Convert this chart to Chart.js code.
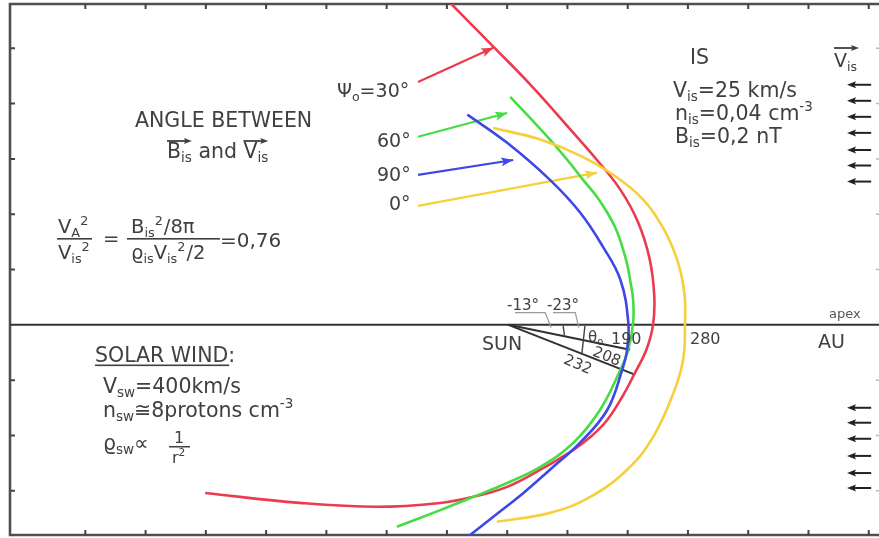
<!DOCTYPE html>
<html><head><meta charset="utf-8">
<script src="https://cdn.jsdelivr.net/npm/chart.js@4/dist/chart.umd.min.js"></script>
<style>html,body{margin:0;padding:0;background:#fff;overflow:hidden}</style>
</head><body>
<canvas id="c" width="879" height="538"></canvas>
<script>
// ---- data (AU, Sun at origin, x toward apex) ----
const xTicks = [-700,-600,-500,-400,-300,-200,-100,0,100,200,300,400,500,600];
const yTicks = [-300,-200,-100,100,200,300,400,500];

// heliopause for Psi0 = 30 deg (red)
const redX = [-100,-23,43,101,149,188,217,236,244,242,231,212,191,166,138,110,55,0,-56,-111,-216,-344,-501];
const redY = [588,503,429,358,298,244,186,121,54,0,-45,-87,-130,-172,-203,-226,-262,-293,-311,-322,-329,-322,-304];
// Psi0 = 60 deg (green)
const greenX = [5,38,71,100,126,148,166,181,191,199,204,209,209,201,188,154,110,55,0,-56,-111,-183];
const greenY = [412,374,335,298,262,233,203,172,141,110,81,45,4,-45,-81,-154,-213,-257,-286,-311,-335,-365];
// Psi0 = 90 deg (blue)
const blueX = [-66,0,71,121,159,188,201,199,191,166,121,71,27,-23,-65];
const blueY = [380,329,262,203,141,81,4,-45,-81,-154,-213,-262,-304,-347,-383];
// Psi0 = 0 deg (yellow)
const yellowX = [-23,55,121,179,226,259,282,294,295,292,276,242,199,138,71,-17];
const yellowY = [356,335,306,269,226,175,118,58,0,-63,-123,-203,-262,-311,-340,-356];

// label arrows (start -> tip)
const redArrowX = [-148,-23],  redArrowY = [439,501];
const greenArrowX = [-148,0],  greenArrowY = [340,383];
const blueArrowX = [-148,10],  blueArrowY = [271,298];
const yellowArrowX = [-148,149], yellowArrowY = [215,275];

// rays from the Sun: -13 deg (190 AU) and -23 deg (232 AU)
const ray13X = [2,204], ray13Y = [0,-45];
const ray23X = [2,212], ray23Y = [0,-90];

// interstellar flow arrows (right side)
const flowX = [604,564];
const flowYUpper = [434,405,376,347,316,288,259];
const flowYLower = [-150,-177,-206,-237,-268,-295];

const toPts = (xs, ys) => xs.map((x,i)=>({x, y: ys[i]}));

const RED='#ec3a4f', GREEN='#46dc46', BLUE='#3d48e6', YELLOW='#f7cf3c', TXT='#404040';

function curve(xs, ys, color){
  return {data: toPts(xs,ys), borderColor: color, borderWidth: 2.6, showLine: true,
          pointRadius: 0, tension: 0.4, fill: false};
}
function arrowDs(xs, ys, color, w){
  return {data: toPts(xs,ys), borderColor: color, borderWidth: w||2.2, showLine: true,
          pointRadius: 0, tension: 0, fill: false, arrow: true};
}
function rayDs(xs, ys){
  return {data: toPts(xs,ys), borderColor: '#303030', borderWidth: 2, showLine: true,
          pointRadius: 0, tension: 0, fill: false};
}

function head(ctx, x1, y1, x2, y2, color, len, wid){
  const a = Math.atan2(y2-y1, x2-x1);
  ctx.save();
  ctx.fillStyle = color;
  ctx.translate(x2, y2); ctx.rotate(a);
  ctx.beginPath(); ctx.moveTo(0,0); ctx.lineTo(-len, -wid/2); ctx.lineTo(-len*0.8,0); ctx.lineTo(-len, wid/2); ctx.closePath();
  ctx.fill();
  ctx.restore();
}

function rich(ctx, x, y, parts, size){
  let cx = x;
  for (const [t, m] of parts){
    const s = m ? size*0.66 : size;
    ctx.font = `${s}px "DejaVu Sans"`;
    const dy = m===1 ? size*0.2 : (m===2 ? -size*0.42 : 0);
    ctx.fillText(t, cx, y+dy);
    cx += ctx.measureText(t).width + (m===2 ? 1 : 0);
  }
  return cx - x;
}
function overArrow(ctx, x1, x2, y){
  ctx.save();
  ctx.strokeStyle = TXT; ctx.lineWidth = 1.8;
  ctx.beginPath(); ctx.moveTo(x1,y); ctx.lineTo(x2-4,y); ctx.stroke();
  head(ctx, x1, y, x2, y, TXT, 8, 6);
  ctx.restore();
}

const framePlugin = {
  id: 'frame',
  beforeDatasetsDraw(chart){
    const {ctx, chartArea: a, scales: {x, y}} = chart;
    ctx.save();
    ctx.strokeStyle = '#505050'; ctx.lineWidth = 2.6;
    ctx.beginPath();
    ctx.moveTo(a.right+2, a.top); ctx.lineTo(a.left, a.top); ctx.lineTo(a.left, a.bottom); ctx.lineTo(a.right+2, a.bottom);
    ctx.stroke();
    ctx.strokeStyle = '#333'; ctx.lineWidth = 2;
    const y0 = y.getPixelForValue(0);
    ctx.beginPath(); ctx.moveTo(a.left, y0); ctx.lineTo(a.right, y0); ctx.stroke();
    ctx.strokeStyle = '#444'; ctx.lineWidth = 2;
    ctx.beginPath();
    for (const t of xTicks){
      const px = x.getPixelForValue(t);
      ctx.moveTo(px, a.top); ctx.lineTo(px, a.top+5);
      ctx.moveTo(px, a.bottom); ctx.lineTo(px, a.bottom-5);
    }
    for (const t of yTicks){
      const py = y.getPixelForValue(t);
      ctx.moveTo(a.left, py); ctx.lineTo(a.left+5, py);
    }
    ctx.stroke();
    ctx.strokeStyle = '#bbb'; ctx.lineWidth = 1.5;
    ctx.beginPath();
    for (const t of yTicks){
      const py = y.getPixelForValue(t);
      ctx.moveTo(a.right, py); ctx.lineTo(a.right-3, py);
    }
    ctx.stroke();
    ctx.restore();
  },
  afterDatasetsDraw(chart){
    const {ctx, scales: {x, y}} = chart;
    ctx.save();
    chart.data.datasets.forEach((ds, i) => {
      if (!ds.arrow) return;
      const pts = chart.getDatasetMeta(i).data;
      const p1 = pts[pts.length-2], p2 = pts[pts.length-1];
      head(ctx, p1.x, p1.y, p2.x, p2.y, ds.borderColor, 12, 9);
    });
    ctx.strokeStyle = '#222'; ctx.lineWidth = 2;
    for (const fy of flowYUpper.concat(flowYLower)){
      const x1 = x.getPixelForValue(flowX[0]), x2 = x.getPixelForValue(flowX[1]);
      const py = y.getPixelForValue(fy);
      ctx.beginPath(); ctx.moveTo(x1, py); ctx.lineTo(x2+4, py); ctx.stroke();
      head(ctx, x1, py, x2, py, '#222', 9, 7);
    }
    ctx.strokeStyle = '#444'; ctx.lineWidth = 1.4;
    const seg = (a,b,c,d)=>{ctx.beginPath();ctx.moveTo(x.getPixelForValue(a),y.getPixelForValue(b));ctx.lineTo(x.getPixelForValue(c),y.getPixelForValue(d));ctx.stroke();};
    seg(93,-2,95,-19);
    seg(129,-2,124,-52);
    ctx.strokeStyle = '#999'; ctx.lineWidth = 1.2;
    ctx.beginPath();
    ctx.moveTo(x.getPixelForValue(13), y.getPixelForValue(22)); ctx.lineTo(x.getPixelForValue(63), y.getPixelForValue(22)); ctx.lineTo(x.getPixelForValue(73), y.getPixelForValue(-5));
    ctx.moveTo(x.getPixelForValue(76), y.getPixelForValue(22)); ctx.lineTo(x.getPixelForValue(113), y.getPixelForValue(22)); ctx.lineTo(x.getPixelForValue(119), y.getPixelForValue(-5));
    ctx.stroke();

    // ---- texts ----
    ctx.fillStyle = TXT; ctx.textBaseline = 'alphabetic';
    const F = 19, B = 20.5;
    ctx.font = `${B}px "DejaVu Sans"`;
    ctx.fillText('ANGLE BETWEEN', 135, 127);
    let w1 = rich(ctx, 167, 158, [['B',0],['is',1]], B);
    overArrow(ctx, 167, 167+w1, 141);
    let w2 = rich(ctx, 167+w1, 158, [[' and ',0]], B);
    let w3 = rich(ctx, 167+w1+w2, 158, [['V',0],['is',1]], B);
    overArrow(ctx, 167+w1+w2, 167+w1+w2+w3, 141);

    const G = 19.5;
    rich(ctx, 58, 233, [['V',0],['A',1],['2',2]], G);
    ctx.fillRect(57, 238, 35, 1.6);
    rich(ctx, 58, 259, [['V',0],['is',1],['2',2]], G);
    ctx.font = `${G}px "DejaVu Sans"`; ctx.fillText('=', 103, 245);
    rich(ctx, 131, 233, [['B',0],['is',1],['2',2],['/8π',0]], G);
    ctx.fillRect(127, 238, 93, 1.6);
    rich(ctx, 131, 259, [['ϱ',0],['is',1],['V',0],['is',1],['2',2],['/2',0]], G);
    ctx.font = `20px "DejaVu Sans"`; ctx.fillText('=0,76', 220, 247);

    rich(ctx, 337, 97, [['Ψ',0],['o',1],['=30°',0]], F);
    ctx.font = `${F}px "DejaVu Sans"`;
    ctx.fillText('60°', 377, 147);
    ctx.fillText('90°', 377, 181);
    ctx.fillText('0°', 389, 210);

    ctx.font = `${B}px "DejaVu Sans"`;
    ctx.fillText('IS', 690, 64);
    rich(ctx, 673, 97, [['V',0],['is',1],['=25 km/s',0]], B);
    rich(ctx, 675, 120, [['n',0],['is',1],['=0,04 cm',0],['-3',2]], B);
    rich(ctx, 675, 143, [['B',0],['is',1],['=0,2 nT',0]], B);
    let w4 = rich(ctx, 834, 67, [['V',0],['is',1]], F);
    overArrow(ctx, 834, 834+w4+2, 48);

    ctx.font = `${B}px "DejaVu Sans"`;
    ctx.fillText('SOLAR WIND:', 95, 362);
    const sw = ctx.measureText('SOLAR WIND:').width;
    ctx.fillRect(95, 364.5, sw - 6, 1.6);
    rich(ctx, 103, 393, [['V',0],['sw',1],['=400km/s',0]], B);
    rich(ctx, 103, 417, [['n',0],['sw',1],['≅8protons cm',0],['-3',2]], B);
    rich(ctx, 103, 450, [['ϱ',0],['sw',1],['∝',0]], B);
    ctx.font = `16px "DejaVu Sans"`;
    ctx.fillText('1', 174, 443);
    ctx.fillRect(169, 446, 21, 1.5);
    rich(ctx, 172, 463, [['r',0],['2',2]], 16);

    ctx.font = `${F}px "DejaVu Sans"`;
    ctx.fillText('SUN', 482, 350);
    ctx.fillText('AU', 818, 348);
    ctx.font = `15px "DejaVu Sans"`;
    ctx.fillText('-13°', 507, 310);
    ctx.fillText('-23°', 547, 310);
    rich(ctx, 588, 342, [['θ',0],['o',1]], 15);
    ctx.font = `16px "DejaVu Sans"`;
    ctx.fillText('190', 611, 344);
    ctx.fillText('280', 690, 344);
    ctx.font = `13px "DejaVu Sans"`;
    ctx.fillStyle = '#555';
    ctx.fillText('apex', 829, 318);
    ctx.fillStyle = TXT;
    ctx.font = `15px "DejaVu Sans"`;
    ctx.textAlign = 'center';
    ctx.save(); ctx.translate(607, 356); ctx.rotate(0.38); ctx.fillText('208', 0, 5); ctx.restore();
    ctx.save(); ctx.translate(578, 364); ctx.rotate(0.40); ctx.fillText('232', 0, 5); ctx.restore();
    ctx.restore();
  }
};

new Chart(document.getElementById('c'), {
  type: 'scatter',
  data: {
    datasets: [
      curve(yellowX, yellowY, YELLOW),
      curve(blueX, blueY, BLUE),
      curve(greenX, greenY, GREEN),
      curve(redX, redY, RED),
      arrowDs(redArrowX, redArrowY, RED),
      arrowDs(greenArrowX, greenArrowY, GREEN),
      arrowDs(blueArrowX, blueArrowY, BLUE),
      arrowDs(yellowArrowX, yellowArrowY, YELLOW),
      rayDs(ray13X, ray13Y),
      rayDs(ray23X, ray23Y)
    ]
  },
  options: {
    responsive: false, animation: false, devicePixelRatio: 1,
    layout: {padding: {left: 10, top: 4, right: 0, bottom: 3}},
    plugins: {legend: {display: false}, tooltip: {enabled: false}},
    scales: {
      x: {type: 'linear', min: -825, max: 617, display: false},
      y: {type: 'linear', min: -380, max: 580, display: false}
    }
  },
  plugins: [framePlugin]
});
</script>
</body></html>
